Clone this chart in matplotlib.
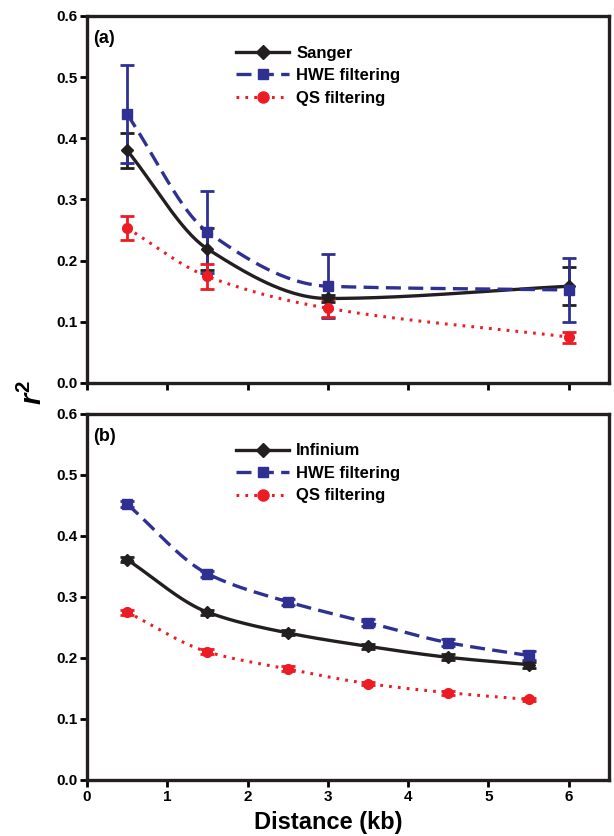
import numpy as np
import matplotlib
matplotlib.use("Agg")
import matplotlib.pyplot as plt

plt.rcParams['font.family'] = ['Liberation Sans', 'DejaVu Sans']
plt.rcParams['font.weight'] = 'bold'
plt.rcParams['mathtext.fontset'] = 'custom'
plt.rcParams['mathtext.it'] = 'Liberation Sans:italic:bold'
plt.rcParams['mathtext.rm'] = 'Liberation Sans:bold'

# ---------- Data ----------
# Panel (a)
xa = [0.5, 1.5, 3.0, 6.0]
sanger = [0.380, 0.219, 0.138, 0.158]
sanger_err = [0.029, 0.034, 0.006, 0.031]
hwe_a = [0.439, 0.247, 0.158, 0.152]
hwe_a_err = [0.080, 0.067, 0.052, 0.052]
qs_a = [0.253, 0.174, 0.122, 0.075]
qs_a_err = [0.020, 0.021, 0.015, 0.009]
labels_a = ["Sanger", "HWE filtering", "QS filtering"]

# Panel (b)
xb = [0.5, 1.5, 2.5, 3.5, 4.5, 5.5]
infinium = [0.361, 0.275, 0.241, 0.219, 0.201, 0.189]
infinium_err = [0.004, 0.004, 0.004, 0.004, 0.005, 0.005]
hwe_b = [0.452, 0.338, 0.292, 0.258, 0.225, 0.204]
hwe_b_err = [0.005, 0.005, 0.005, 0.005, 0.006, 0.008]
qs_b = [0.275, 0.210, 0.182, 0.158, 0.143, 0.132]
qs_b_err = [0.004, 0.004, 0.004, 0.003, 0.003, 0.003]
labels_b = ["Infinium", "HWE filtering", "QS filtering"]

xticks = [0, 1, 2, 3, 4, 5, 6]
yticks = [0.0, 0.1, 0.2, 0.3, 0.4, 0.5, 0.6]

BLACK = "#231f20"
BLUE = "#2e3192"
RED = "#ed1c24"


def pchip(x, y, n=200):
    x = np.asarray(x, float)
    y = np.asarray(y, float)
    h = np.diff(x)
    d = np.diff(y) / h
    m = np.zeros_like(y)
    for k in range(1, len(x) - 1):
        if d[k - 1] * d[k] <= 0:
            m[k] = 0.0
        else:
            w1 = 2 * h[k] + h[k - 1]
            w2 = h[k] + 2 * h[k - 1]
            m[k] = (w1 + w2) / (w1 / d[k - 1] + w2 / d[k])
    m[0] = d[0]
    m[-1] = d[-1]
    xs = np.linspace(x[0], x[-1], n)
    idx = np.clip(np.searchsorted(x, xs) - 1, 0, len(x) - 2)
    t = (xs - x[idx]) / h[idx]
    h00 = 2 * t**3 - 3 * t**2 + 1
    h10 = t**3 - 2 * t**2 + t
    h01 = -2 * t**3 + 3 * t**2
    h11 = t**3 - t**2
    ys = h00 * y[idx] + h10 * h[idx] * m[idx] + h01 * y[idx + 1] + h11 * h[idx] * m[idx + 1]
    return xs, ys


fig = plt.figure(figsize=(6.14, 8.36), dpi=100)
ax_a = fig.add_axes([0.1417, 0.542, 0.850, 0.439])
ax_b = fig.add_axes([0.1417, 0.067, 0.850, 0.438])

styles = [
    dict(color=BLACK, ls='-', marker='D', ms=6.5, lw=2.4),
    dict(color=BLUE, ls=(0, (4.5, 2.2)), marker='s', ms=6.5, lw=2.4),
    dict(color=RED, ls=(0, (0.9, 2.0)), marker='o', ms=7, lw=2.2),
]


def draw(ax, x, series, errs, labels, tag):
    handles = []
    for y, e, st, lab in zip(series, errs, styles, labels):
        xs, ys = pchip(x, y)
        ax.plot(xs, ys, color=st['color'], ls=st['ls'], lw=st['lw'], zorder=2)
        ax.errorbar(x, y, yerr=e, fmt='none', ecolor=st['color'], elinewidth=2,
                    capsize=5, capthick=2, zorder=3)
        ax.plot(x, y, ls='none', marker=st['marker'], ms=st['ms'],
                color=st['color'], mec=st['color'], zorder=4)
        h, = ax.plot([], [], color=st['color'], ls=st['ls'], lw=st['lw'],
                     marker=st['marker'], ms=st['ms'] + 1, label=lab)
        handles.append(h)
    ax.set_xlim(0, 6.5)
    ax.set_ylim(0, 0.6)
    ax.set_xticks(xticks)
    ax.set_yticks(yticks)
    ax.set_yticklabels([f"{v:.1f}" for v in yticks])
    ax.tick_params(direction='out', length=5, width=2, labelsize=11, pad=2)
    for s in ax.spines.values():
        s.set_linewidth(2.4)
        s.set_color(BLACK)
    ax.text(0.012, 0.962, tag, transform=ax.transAxes, ha='left', va='top',
            fontsize=13, fontweight='bold')
    ax.legend(handles=handles, loc='upper left', bbox_to_anchor=(0.257, 0.960),
              frameon=False, handlelength=3.2, handletextpad=0.4,
              labelspacing=0.45, prop=dict(weight='bold', size=12))


draw(ax_a, xa, [sanger, hwe_a, qs_a], [sanger_err, hwe_a_err, qs_a_err], labels_a, "(a)")
draw(ax_b, xb, [infinium, hwe_b, qs_b], [infinium_err, hwe_b_err, qs_b_err], labels_b, "(b)")

ax_a.set_xticklabels([])
ax_b.set_xticklabels([str(v) for v in xticks])
ax_b.set_xlabel("Distance (kb)", fontsize=17, fontweight='bold')
ax_b.xaxis.label.set_va('center')
ax_b.xaxis.set_label_coords(3 / 6.5, -0.115)

fig.text(0.054, 0.531, r"$r^2$", rotation=90, ha='center', va='center', fontsize=21)

fig.savefig("out.png", dpi=100)
